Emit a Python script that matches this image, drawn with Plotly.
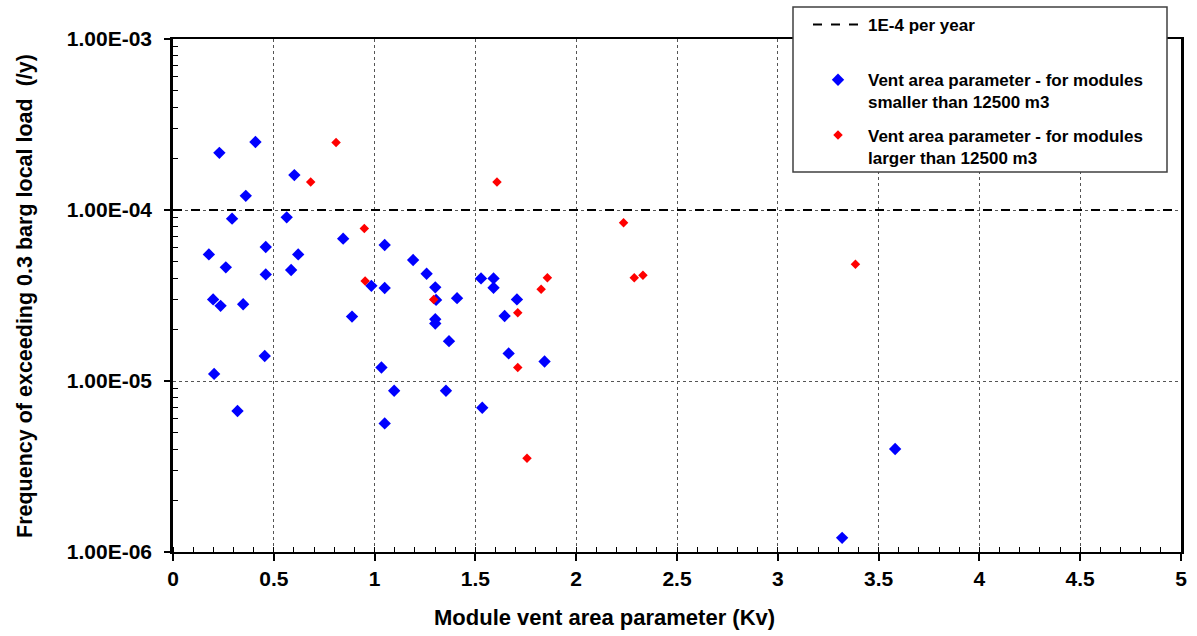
import plotly.graph_objects as go

# ---- data ----
blue_x = [0.230, 0.409, 0.602, 0.361, 0.293, 0.564, 0.844, 1.050, 0.460, 0.178,
          0.621, 1.191, 0.262, 0.586, 1.258, 0.460, 1.301, 0.984, 1.050, 1.305,
          1.409, 0.199, 0.236, 0.348, 0.888, 1.301, 1.301, 1.369, 0.455, 0.204,
          1.034, 1.097, 1.354, 0.320, 1.050, 1.528, 1.590, 1.590, 1.706, 1.645,
          1.665, 1.843, 1.534, 3.319, 3.582]
blue_y = [2.16e-4, 2.5e-4, 1.6e-4, 1.21e-4, 8.9e-5, 9.06e-5, 6.8e-5, 6.24e-5, 6.08e-5, 5.5e-5,
          5.5e-5, 5.1e-5, 4.62e-5, 4.46e-5, 4.24e-5, 4.2e-5, 3.53e-5, 3.6e-5, 3.5e-5, 2.98e-5,
          3.05e-5, 3.0e-5, 2.75e-5, 2.81e-5, 2.38e-5, 2.3e-5, 2.17e-5, 1.71e-5, 1.4e-5, 1.1e-5,
          1.2e-5, 8.77e-6, 8.77e-6, 6.68e-6, 5.65e-6, 3.98e-5, 3.98e-5, 3.51e-5, 3.0e-5, 2.4e-5,
          1.45e-5, 1.3e-5, 6.98e-6, 1.21e-6, 4.0e-6]

red_x = [0.809, 0.683, 0.949, 0.953, 1.293, 1.607, 2.235, 1.857, 1.826, 1.710,
         1.710, 1.756, 2.288, 2.331, 3.385]
red_y = [2.48e-4, 1.46e-4, 7.8e-5, 3.84e-5, 3.0e-5, 1.46e-4, 8.43e-5, 4.02e-5, 3.44e-5, 2.51e-5,
         1.2e-5, 3.53e-6, 4.02e-5, 4.15e-5, 4.81e-5]

threshold_x = [0, 5]
threshold_value = 1e-4

y_tick_vals = [1e-6, 1e-5, 1e-4, 1e-3]
y_tick_text = ["1.00E-06", "1.00E-05", "1.00E-04", "1.00E-03"]
y_minor_vals = [m * d for d in [1e-6, 1e-5, 1e-4] for m in range(2, 10)]

legend_names = ["1E-4 per year",
                "Vent area parameter - for modules<br>smaller than 12500 m3",
                "Vent area parameter - for modules<br>larger than 12500 m3"]
x_title = "Module vent area parameter (Kv)"
y_title = "Frequency of exceeding 0.3 barg local load  (/y)"

FONT = "Liberation Sans, Arial, sans-serif"

fig = go.Figure()
fig.add_trace(go.Scatter(
    x=threshold_x, y=[threshold_value] * len(threshold_x), mode="lines",
    line=dict(color="black", width=2, dash="dash"),
    name=legend_names[0] + "<br> ", legendgroup="a", hoverinfo="skip"))
fig.add_trace(go.Scatter(
    x=blue_x, y=blue_y, mode="markers",
    marker=dict(symbol="diamond", size=9.5, color="#0000FF", line=dict(width=0)),
    name=legend_names[1], legendgroup="b"))
fig.add_trace(go.Scatter(
    x=red_x, y=red_y, mode="markers",
    marker=dict(symbol="diamond", size=7.3, color="#FF0000", line=dict(width=0)),
    name=legend_names[2], legendgroup="c"))

L, R, T, B = 173, 16, 39, 84
W, H = 1197, 636
pw, ph = W - L - R, H - T - B

def px_x(p):
    return (p - L) / pw

def px_y(p):
    return (H - B - p) / ph

fig.add_shape(type="rect", xref="paper", yref="paper",
              x0=px_x(793), x1=px_x(1167), y0=px_y(172), y1=px_y(7),
              fillcolor="white", line=dict(color="#404040", width=1.5), layer="above")

fig.add_annotation(text=x_title, xref="paper", yref="paper",
                   x=px_x(604.5), y=px_y(617), xanchor="center", yanchor="middle",
                   showarrow=False,
                   font=dict(family=FONT, size=22, color="black", weight="bold"))
fig.add_annotation(text=y_title, xref="paper", yref="paper",
                   x=px_x(25), y=px_y(296), xanchor="center", yanchor="middle",
                   textangle=-90, showarrow=False,
                   font=dict(family=FONT, size=21.5, color="black", weight="bold"))

fig.update_layout(
    width=W, height=H,
    margin=dict(l=L, r=R, t=T, b=B, autoexpand=False),
    paper_bgcolor="white", plot_bgcolor="white",
    font=dict(family=FONT, color="black"),
    showlegend=True,
    legend=dict(x=808 / W, y=1 - 7 / H, xref="container", yref="container",
                xanchor="left", yanchor="top",
                bgcolor="rgba(0,0,0,0)", borderwidth=0,
                font=dict(family=FONT, size=17, color="black", weight="bold"),
                traceorder="grouped", tracegroupgap=8, valign="top",
                itemwidth=50),
    xaxis=dict(range=[0, 5], dtick=0.5, tick0=0, automargin=False,
               showline=True, linecolor="black", linewidth=2, mirror=True,
               ticks="outside", ticklen=7, tickwidth=1.5, tickcolor="black",
               showgrid=True, gridcolor="#555555", griddash="dot", gridwidth=1,
               zeroline=False,
               tickfont=dict(family=FONT, size=21, weight="bold"),
               minor=dict(ticks="inside", dtick=0.1, ticklen=5, tickwidth=1,
                          tickcolor="black", showgrid=False)),
    yaxis=dict(type="log", range=[-6, -3], automargin=False,
               tickmode="array", tickvals=y_tick_vals, ticktext=y_tick_text,
               showline=True, linecolor="black", linewidth=2.5, mirror=True,
               ticks="outside", ticklen=6, tickwidth=1.5, tickcolor="black",
               showgrid=True, gridcolor="#555555", griddash="dot", gridwidth=1,
               zeroline=False, ticklabelstandoff=8,
               tickfont=dict(family=FONT, size=21, weight="bold"),
               minor=dict(ticks="inside", tickmode="array", tickvals=y_minor_vals,
                          ticklen=5, tickwidth=1, tickcolor="black", showgrid=False)),
)

fig.write_html("out.html")
